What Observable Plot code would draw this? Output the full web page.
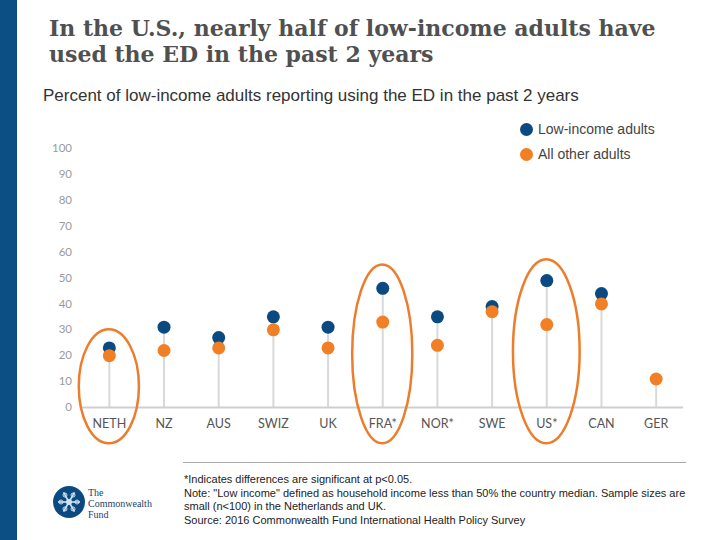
<!DOCTYPE html>
<html>
<head>
<meta charset="utf-8">
<script src="https://cdn.jsdelivr.net/npm/d3@7"></script>
<script src="https://cdn.jsdelivr.net/npm/@observablehq/plot@0.6"></script>
<style>
  html, body { margin: 0; padding: 0; background: #fff; }
  body { width: 720px; height: 540px; position: relative; overflow: hidden; font-family: "Liberation Sans", Arial, sans-serif; }
  #bar { position: absolute; left: 0; top: 0; width: 17px; height: 540px; background: #0b4f84; }
  #title { position: absolute; left: 49px; top: 15px; font-family: "DejaVu Serif", "Liberation Serif", serif; font-weight: bold; font-size: 22px; line-height: 26px; color: #505050; white-space: nowrap; }
  #subtitle { position: absolute; left: 43px; top: 86px; font-size: 17px; color: #333; white-space: nowrap; }
  #chart { position: absolute; left: 0; top: 110px; }
  .legend { position: absolute; left: 520px; font-size: 14px; color: #444; display: flex; align-items: center; }
  .legend span.dot { display: inline-block; width: 13px; height: 13px; border-radius: 50%; margin-right: 5px; }
  #rule { position: absolute; left: 183px; top: 462px; width: 503px; height: 1px; background: #aaa; }
  #notes { position: absolute; left: 184px; top: 473px; font-size: 11px; line-height: 13.7px; color: #222; white-space: nowrap; }
  #logo { position: absolute; left: 52px; top: 485px; width: 40px; height: 36px; }
  #logotext { position: absolute; left: 88px; top: 487px; font-family: "Liberation Serif", serif; font-size: 10px; line-height: 11px; color: #1d3f66; }
</style>
</head>
<body>
<div id="bar"></div>
<div id="title">In the U.S., nearly half of low-income adults have<br>used the ED in the past 2 years</div>
<div id="subtitle">Percent of low-income adults reporting using the ED in the past 2 years</div>
<div id="chart"></div>
<div class="legend" style="top:121px"><span class="dot" style="background:#0b4a80"></span>Low-income adults</div>
<div class="legend" style="top:146px"><span class="dot" style="background:#f07f26"></span>All other adults</div>
<div id="rule"></div>
<svg id="logo" width="40" height="36"></svg>
<div id="logotext">The<br>Commonwealth<br>Fund</div>
<div id="notes">*Indicates differences are significant at p&lt;0.05.<br>Note: "Low income" defined as household income less than 50% the country median. Sample sizes are<br>small (n&lt;100) in the Netherlands and UK.<br>Source: 2016 Commonwealth Fund International Health Policy Survey</div>
<script>
const countries = ["NETH","NZ","AUS","SWIZ","UK","FRA*","NOR*","SWE","US*","CAN","GER"];
const lowIncome = [23,31,27,35,31,46,35,39,49,44,null];
const allOther  = [20,22,23,30,23,33,24,37,32,40,11];
const yTicks = [0,10,20,30,40,50,60,70,80,90,100];
const highlighted = ["NETH","FRA*","US*"];
const ellipseTop = [30,55,57];
const ellipseBottom = [-14,-14,-14];

const rows = countries.map((c,i) => ({country:c, low:lowIncome[i], other:allOther[i], top:Math.max(lowIncome[i] ?? 0, allOther[i] ?? 0)}));
const lowRows = rows.filter(d => d.low != null);
const otherRows = rows.filter(d => d.other != null);

const plot = Plot.plot({
  width: 720,
  height: 340,
  marginLeft: 81.5,
  marginRight: 37,
  marginTop: 38,
  marginBottom: 43,
  style: {fontFamily: "Lato, sans-serif", background: "transparent", overflow: "visible"},
  x: {type: "band", domain: countries, padding: 0, round: false, label: null},
  y: {domain: [0,100], label: null},
  marks: [
    Plot.ruleX(rows, {x: "country", y1: 0, y2: "top", stroke: "#d9d9d9", strokeWidth: 2}),
    Plot.ruleY([0], {stroke: "#cfcfcf", strokeWidth: 2}),
    Plot.axisY({ticks: yTicks, tickSize: 0, tickPadding: 10, fontSize: 11.5, fill: "#9a9a9a", label: null}),
    Plot.axisX({tickSize: 0, tickPadding: 12, fontSize: 12.5, fill: "#555", label: null}),
    Plot.dot(lowRows, {x: "country", y: "low", r: 6.5, fill: "#0b4a80"}),
    Plot.dot(otherRows, {x: "country", y: "other", r: 6.5, fill: "#f07f26"})
  ]
});
document.getElementById("chart").appendChild(plot);

// Ellipses drawn with the plot's own scales
const xs = plot.scale("x"), ys = plot.scale("y");
const svg = d3.select(plot);
highlighted.forEach((c, i) => {
  const cx = xs.apply(c) + xs.bandwidth / 2;
  const y1 = ys.apply(ellipseTop[i]), y2 = ys.apply(ellipseBottom[i]);
  svg.append("ellipse")
    .attr("cx", cx).attr("cy", (y1 + y2) / 2)
    .attr("rx", xs.bandwidth * (c === "US*" ? 0.61 : 0.55)).attr("ry", Math.abs(y2 - y1) / 2)
    .attr("fill", "none").attr("stroke", "#ec7d2c").attr("stroke-width", 2.5);
});

// Logo
const lg = d3.select("#logo");
lg.append("circle").attr("cx", 17).attr("cy", 17).attr("r", 16).attr("fill", "#0b4a80");
for (let k = 0; k < 6; k++) {
  const a = k * Math.PI / 3;
  lg.append("line").attr("x1", 17).attr("y1", 17)
    .attr("x2", 17 + 11 * Math.cos(a)).attr("y2", 17 + 11 * Math.sin(a))
    .attr("stroke", "#cfe3f2").attr("stroke-width", 1.6);
  lg.append("circle").attr("cx", 17 + 8 * Math.cos(a)).attr("cy", 17 + 8 * Math.sin(a)).attr("r", 2).attr("fill", "none").attr("stroke", "#cfe3f2").attr("stroke-width", 1);
}
lg.append("circle").attr("cx", 17).attr("cy", 17).attr("r", 3).attr("fill", "#cfe3f2");
</script>
</body>
</html>
